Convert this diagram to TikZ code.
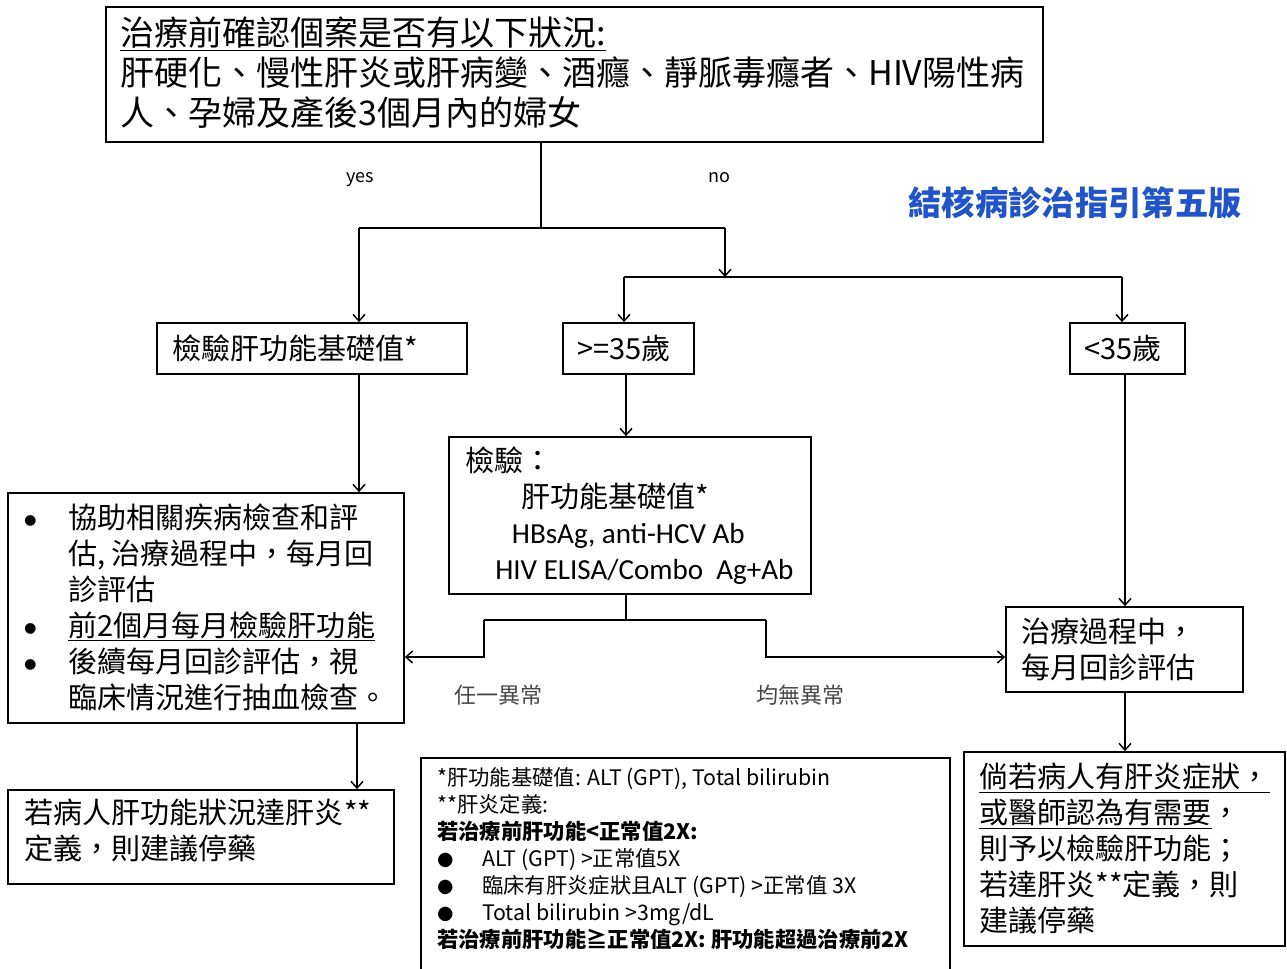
\documentclass[tikz,border=0pt]{standalone}
\usepackage{fontspec}
\setmainfont{Noto Sans CJK TC}
\newfontfamily\calfont{Carlito}
\usetikzlibrary{arrows.meta}
\definecolor{titleblue}{RGB}{32,84,200}
\definecolor{lblgray}{RGB}{70,70,70}
\newcommand\bigsz{\fontsize{25.5pt}{30pt}\selectfont}
\newcommand\midsz{\fontsize{21.8pt}{27pt}\selectfont}
\newcommand\smlsz{\fontsize{16pt}{20.25pt}\selectfont}
\newcommand\bl{\makebox[34.5pt][l]{\hspace*{1.5pt}\raisebox{2pt}{\fontsize{9pt}{9pt}\selectfont ●}}}
\newcommand\nb{\hspace*{34.5pt}}
\newcommand\dotbl{\makebox[33.75pt][l]{\fontsize{12pt}{12pt}\selectfont ●}}
\begin{document}
\begin{tikzpicture}[x=0.75pt,y=-0.75pt,
  box/.style={draw, line width=1.3pt, inner sep=0pt},
  txt/.style={inner sep=0pt, anchor=west, align=left},
  conn/.style={line width=1.1pt},
  arr/.style={line width=1.1pt, -{Straight Barb[length=5pt,width=9pt]}}]
\useasboundingbox (0,0) rectangle (1287,968);

% boxes
\node[box, minimum width=702.75pt, minimum height=101.25pt] (top) at (574.5,74.5) {};
\node[box, minimum width=232.5pt, minimum height=38.25pt] (b1) at (312,348.5) {};
\node[box, minimum width=98.25pt, minimum height=38.25pt] (b2) at (628.5,348.5) {};
\node[box, minimum width=86.25pt, minimum height=38.25pt] (b3) at (1127.5,348.5) {};
\node[box, minimum width=271.5pt, minimum height=117.75pt] (c) at (630,515.5) {};
\node[box, minimum width=297pt, minimum height=172.5pt] (d) at (206,608) {};
\node[box, minimum width=289.5pt, minimum height=70.5pt] (e) at (201,837) {};
\node[box, minimum width=396.75pt, minimum height=165pt] (f) at (685.5,868) {};
\node[box, minimum width=177.75pt, minimum height=63.75pt] (g) at (1124.5,649.5) {};
\node[box, minimum width=240.75pt, minimum height=145.5pt] (h) at (1124.5,849) {};

% texts
\node[txt, font=\bigsz] (topt) at (120,73) {\underline{治療前確認個案是否有以下狀況:}\\肝硬化、慢性肝炎或肝病變、酒癮、靜脈毒癮者、HIV陽性病\\人、孕婦及產後3個月內的婦女};
\node[txt, font=\midsz] (b1t) at (172,348) {檢驗肝功能基礎值*};
\node[txt, font=\midsz] (b2t) at (577,348) {>=35歲};
\node[txt, font=\midsz] (b3t) at (1084,348) {<35歲};
\node[txt, font=\midsz] (ct) at (465,515.5) {檢驗：\\\hspace*{42pt}肝功能基礎值*\\\hspace*{35pt}{\calfont HBsAg, anti-HCV Ab}\\\hspace*{22.5pt}{\calfont HIV ELISA/Combo\ \ Ag+Ab}};
\node[txt, font=\midsz] (dt) at (22,607) {\bl 協助相關疾病檢查和評\\\nb 估, 治療過程中，每月回\\\nb 診評估\\\bl \underline{前2個月每月檢驗肝功能}\\\bl 後續每月回診評估，視\\\nb 臨床情況進行抽血檢查。};
\node[txt, font=\midsz] (et) at (24,831) {若病人肝功能狀況達肝炎**\\定義，則建議停藥};
\node[txt, font=\smlsz] (ft) at (437,859) {*肝功能基礎值: ALT (GPT), Total bilirubin\\**肝炎定義:\\\textbf{若治療前肝功能<正常值2X:}\\\dotbl ALT (GPT) >正常值5X\\\dotbl 臨床有肝炎症狀且ALT (GPT) >正常值 3X\\\dotbl Total bilirubin >3mg/dL\\\textbf{若治療前肝功能≧正常值2X: 肝功能超過治療前2X}};
\node[txt, font=\midsz] (gt) at (1021,649) {治療過程中，\\每月回診評估};
\node[txt, font=\midsz] (ht) at (979,849) {\underline{倘若病人有肝炎症狀，}\\\underline{或醫師認為有需要}，\\則予以檢驗肝功能；\\若達肝炎**定義，則\\建議停藥};

% title and labels
\node[font=\fontsize{25pt}{30pt}\selectfont\bfseries, text=titleblue] (title) at (1075,203) {結核病診治指引第五版};
\node[font=\fontsize{13.5pt}{16pt}\selectfont] (yes) at (360,180) {yes};
\node[font=\fontsize{13.5pt}{16pt}\selectfont] (no) at (719,178) {no};
\node[font=\fontsize{16.5pt}{20pt}\selectfont, text=lblgray] (lab1) at (498,695) {任一異常};
\node[font=\fontsize{16.5pt}{20pt}\selectfont, text=lblgray] (lab2) at (800,695) {均無異常};

% junction coordinates
\coordinate (j0) at (541,228);
\coordinate (jy) at (359,228);
\coordinate (jn) at (725,228);
\coordinate (jn2) at (725,277);
\coordinate (ja) at (624,277);
\coordinate (jb) at (1122,277);
\coordinate (jc) at (626,620);
\coordinate (jl) at (484,620);
\coordinate (jr) at (766,620);
\coordinate (jl2) at (484,657);
\coordinate (jr2) at (766,657);
\coordinate (colR) at (1125,0);
\coordinate (colL) at (357,0);

% connectors
\draw[conn] (j0 |- top.south) -- (j0);
\draw[conn] (jy) -- (jn);
\draw[arr] (jy) -- (jy |- b1.north);
\draw[arr] (jn) -- (jn2);
\draw[conn] (ja) -- (jb);
\draw[arr] (ja) -- (ja |- b2.north);
\draw[arr] (jb) -- (jb |- b3.north);
\draw[arr] (jy |- b1.south) -- (jy |- d.north);
\draw[arr] (jc |- b2.south) -- (jc |- c.north);
\draw[conn] (jc |- c.south) -- (jc);
\draw[conn] (jl) -- (jr);
\draw[arr] (jl) -- (jl2) -- (jl2 -| d.east);
\draw[arr] (jr) -- (jr2) -- (jr2 -| g.west);
\draw[arr] (colR |- b3.south) -- (colR |- g.north);
\draw[arr] (colR |- g.south) -- (colR |- h.north);
\draw[arr] (colL |- d.south) -- (colL |- e.north);
\end{tikzpicture}
\end{document}
